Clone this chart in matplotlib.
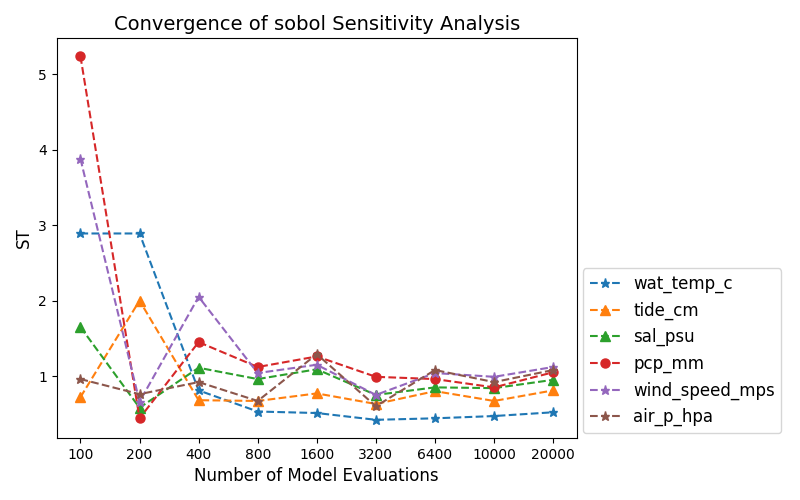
import matplotlib
matplotlib.use("Agg")
import matplotlib.pyplot as plt

n_evals = ["100", "200", "400", "800", "1600", "3200", "6400", "10000", "20000"]
wat_temp_c = [2.89, 2.89, 0.81, 0.53, 0.51, 0.42, 0.44, 0.47, 0.52]
tide_cm = [0.72, 2.00, 0.68, 0.67, 0.77, 0.63, 0.80, 0.67, 0.81]
sal_psu = [1.65, 0.58, 1.11, 0.96, 1.09, 0.75, 0.85, 0.84, 0.95]
pcp_mm = [5.24, 0.44, 1.45, 1.12, 1.26, 0.99, 0.96, 0.85, 1.05]
wind_speed_mps = [3.88, 0.66, 2.05, 1.04, 1.15, 0.75, 1.04, 0.99, 1.12]
air_p_hpa = [0.96, 0.76, 0.92, 0.67, 1.29, 0.60, 1.08, 0.92, 1.08]

series = [
    ("wat_temp_c", wat_temp_c, "*"),
    ("tide_cm", tide_cm, "^"),
    ("sal_psu", sal_psu, "^"),
    ("pcp_mm", pcp_mm, "o"),
    ("wind_speed_mps", wind_speed_mps, "*"),
    ("air_p_hpa", air_p_hpa, "*"),
]

fig = plt.figure(figsize=(8, 5), dpi=100)
ax = fig.add_axes([0.071, 0.124, 0.650, 0.800])
x = list(range(len(n_evals)))
for name, vals, m in series:
    ax.plot(x, vals, linestyle="--", marker=m, markersize=6.5, label=name)

ax.set_xticks(x)
ax.set_xticklabels(n_evals)
ax.set_title("Convergence of sobol Sensitivity Analysis", fontsize=14)
ax.set_xlabel("Number of Model Evaluations", fontsize=12)
ax.set_ylabel("ST", fontsize=12)
ax.legend(loc="lower left", bbox_to_anchor=(0.996, -0.008), fontsize=12,
          handlelength=1.8)

fig.savefig("out.png", dpi=100)
